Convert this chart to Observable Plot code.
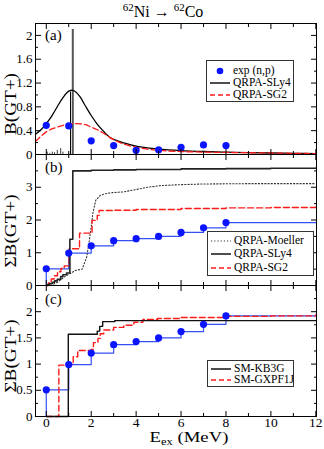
<!DOCTYPE html>
<html><head><meta charset="utf-8">
<script src="https://cdn.jsdelivr.net/npm/d3@7"></script>
<script src="https://cdn.jsdelivr.net/npm/@observablehq/plot@0.6"></script>
<style>
body{margin:0;background:#fff;}
#chart{position:relative;width:324px;height:449px;font-family:"Liberation Serif",serif;overflow:hidden;background:#fff}
#chart svg.plotp{position:absolute;left:0;overflow:visible;background:transparent}
.lbl{position:absolute;white-space:nowrap;color:#000}
.legend{position:absolute;border:1px solid #333;background:#fff;font-size:11.5px;box-sizing:border-box}
.row{position:absolute;left:0;height:12px;line-height:12px;white-space:nowrap}
.row svg{position:absolute;left:2px;top:1px}
.row span{position:absolute;top:-1px}
.ytitle{position:absolute;white-space:nowrap;font-size:16px;line-height:16px;transform:translate(-50%,-50%) rotate(-90deg) scaleX(1.2)}
</style></head><body><div id="chart"></div>
<script>
// ---------- data ----------
const xTicksMajor = [0, 2, 4, 6, 8, 10, 12];
const xTicksMinor = [1, 3, 5, 7, 9, 11];

// panel (a): B(GT+)
const expE = [0, 1, 2, 3, 4, 5, 6, 7, 8];
const expB = [0.49, 0.48, 0.23, 0.15, 0.07, 0.08, 0.12, 0.16, 0.15];
const sly4E = [-0.48, -0.25, 0, 0.25, 0.5, 0.75, 1.0, 1.15, 1.3, 1.5, 1.75, 2.0, 2.25, 2.5, 2.86, 3.0, 3.5, 4, 4.5, 5, 6, 7, 8, 9, 10, 11, 12];
const sly4B = [0.34, 0.41, 0.52, 0.65, 0.81, 0.96, 1.065, 1.08, 1.055, 0.97, 0.81, 0.655, 0.52, 0.41, 0.28, 0.255, 0.19, 0.14, 0.11, 0.09, 0.065, 0.05, 0.04, 0.03, 0.025, 0.02, 0.015];
const sg2E = [-0.48, -0.25, 0, 0.25, 0.5, 0.75, 1.0, 1.35, 1.75, 2.0, 2.25, 2.5, 2.86, 3.0, 3.5, 4, 4.5, 5, 6, 7, 8, 9, 10, 11, 12];
const sg2B = [0.22, 0.30, 0.38, 0.43, 0.46, 0.49, 0.51, 0.52, 0.50, 0.46, 0.42, 0.37, 0.28, 0.25, 0.17, 0.12, 0.09, 0.07, 0.05, 0.04, 0.035, 0.03, 0.025, 0.02, 0.015];
const stickE = [0.04, 0.16, 0.27, 0.37, 0.49, 0.64, 0.74, 1.08, 1.18];
const stickB = [0.04, 0.02, 0.04, 0.03, 0.07, 0.10, 0.04, 1.05, 2.10];

// panels (b),(c): cumulative sum B(GT+)
const expCum = [0.51, 0.99, 1.21, 1.37, 1.43, 1.50, 1.62, 1.76, 1.92];
const moellerE = [0.2, 0.5, 0.8, 1.05, 1.3, 1.6, 1.8, 1.9, 2.0, 2.07, 2.2, 2.4, 2.6, 2.86, 3.45, 4.0, 4.5, 5.1, 6, 7, 9, 12];
const moellerB = [0, 0.1, 0.26, 0.36, 0.46, 0.5, 0.87, 1.3, 1.78, 2.19, 2.6, 2.75, 2.8, 2.83, 2.86, 2.93, 3.0, 3.05, 3.08, 3.1, 3.11, 3.11];
const sly4CumE = [0, 0.04, 0.16, 0.27, 0.37, 0.49, 0.64, 0.74, 0.9, 1.05, 1.18, 2, 3, 4, 6, 8, 10, 12];
const sly4CumB = [0, 0.03, 0.06, 0.10, 0.14, 0.19, 0.27, 0.33, 0.38, 1.41, 3.50, 3.52, 3.53, 3.54, 3.56, 3.57, 3.58, 3.59];
const sg2CumE = [0, 0.1, 0.22, 0.35, 0.5, 0.65, 0.8, 1.02, 1.48, 2.04, 2.27, 2.35, 3, 4, 6, 8, 10, 12];
const sg2CumB = [0, 0.08, 0.2, 0.3, 0.42, 0.52, 0.6, 1.12, 1.6, 1.99, 2.14, 2.29, 2.3, 2.32, 2.35, 2.37, 2.38, 2.4];
const kb3gE = [0, 0.98, 2.27, 2.38, 2.51, 3.05, 12];
const kb3gB = [0, 1.57, 1.63, 1.72, 1.81, 1.83, 1.83];
const gxE = [0, 0.56, 1.0, 1.2, 1.4, 2.0, 2.1, 2.3, 2.4, 2.56, 3.0, 3.45, 3.9, 4.3, 4.95, 6, 8, 10, 12];
const gxB = [0, 0.98, 1.0, 1.14, 1.26, 1.28, 1.41, 1.49, 1.58, 1.65, 1.70, 1.74, 1.80, 1.85, 1.87, 1.89, 1.91, 1.92, 1.94];

// ---------- tables ----------
const zip = (E, B) => E.map((e, i) => ({E: e, B: B[i]}));
const expA = zip(expE, expB);
const sly4 = zip(sly4E, sly4B);
const sg2 = zip(sg2E, sg2B);
const sticks = zip(stickE, stickB);
const expPts = zip(expE, expCum);
const expStep = [{E: 0, B: 0}, ...expPts, {E: 12, B: expCum[expCum.length - 1]}];
const moeller = zip(moellerE, moellerB);
const sly4Cum = zip(sly4CumE, sly4CumB);
const sg2Cum = zip(sg2CumE, sg2CumB);
const kb3g = zip(kb3gE, kb3gB);
const gx = zip(gxE, gxB);

const BLUE = "#0a14ff", STEPBLUE = "#3550f2", RED = "#ff1a1a";
const chart = document.getElementById("chart");

function panel({top, height, mt, mb, yDomain, yMajor, yMinor, xLabels, marks}) {
  const blank = () => "";
  const p = Plot.plot({
    width: 324, height, marginLeft: 35, marginRight: 8, marginTop: mt, marginBottom: mb,
    style: {fontFamily: "Liberation Serif", fontSize: "13px", background: "transparent", color: "black"},
    x: {domain: [-0.48, 12.03]},
    y: {domain: yDomain},
    marks: [
      ...marks,
      Plot.frame({stroke: "black", strokeWidth: 1}),
      Plot.axisY({anchor: "left", ticks: yMajor, tickSize: 0, tickPadding: 3, tickFormat: d => String(d), label: null}),
      Plot.axisY({anchor: "left", ticks: yMajor, tickSize: -6, tickFormat: blank, label: null}),
      Plot.axisY({anchor: "left", ticks: yMinor, tickSize: -3, tickFormat: blank, label: null}),
      Plot.axisY({anchor: "right", ticks: yMajor, tickSize: -6, tickFormat: blank, label: null}),
      Plot.axisY({anchor: "right", ticks: yMinor, tickSize: -3, tickFormat: blank, label: null}),
      Plot.axisX({anchor: "bottom", ticks: xTicksMajor, tickSize: -5, tickFormat: blank, label: null}),
      Plot.axisX({anchor: "bottom", ticks: xTicksMinor, tickSize: -3, tickFormat: blank, label: null}),
      Plot.axisX({anchor: "top", ticks: xTicksMajor, tickSize: -5, tickFormat: blank, label: null}),
      Plot.axisX({anchor: "top", ticks: xTicksMinor, tickSize: -3, tickFormat: blank, label: null}),
      ...(xLabels ? [Plot.axisX({anchor: "bottom", ticks: xTicksMajor, tickSize: 0, tickPadding: 0.5, tickFormat: d => String(d), label: null, fontSize: 13.5})] : [])
    ]
  });
  p.classList.add("plotp");
  p.style.top = top + "px";
  p.style.overflow = "visible";
  chart.appendChild(p);
}

panel({
  top: 0, height: 154, mt: 23, mb: 0, yDomain: [0, 2.2],
  yMajor: [0, 0.4, 0.8, 1.2, 1.6, 2], yMinor: [0.2, 0.6, 1.0, 1.4, 1.8, 2.2], xLabels: false,
  marks: [
    Plot.ruleX(sticks.slice(0, 7), {x: "E", y1: 0, y2: "B", stroke: "#444", strokeWidth: 1}),
    Plot.ruleX(sticks.slice(7, 8), {x: "E", y1: 0, y2: "B", stroke: "#000", strokeWidth: 1}),
    Plot.ruleX(sticks.slice(8), {x: "E", y1: 0, y2: "B", stroke: "#555", strokeWidth: 2}),
    Plot.line(sly4, {x: "E", y: "B", stroke: "#000", strokeWidth: 1.3, curve: "monotone-x"}),
    Plot.line(sg2, {x: "E", y: "B", stroke: RED, strokeWidth: 1.3, strokeDasharray: "6,3", curve: "monotone-x"}),
    Plot.dot(expA, {x: "E", y: "B", r: 3.6, fill: BLUE, stroke: "none"})
  ]
});

panel({
  top: 154, height: 131, mt: 0, mb: 0, yDomain: [0, 4],
  yMajor: [0, 1, 2, 3], yMinor: [0.5, 1.5, 2.5, 3.5], xLabels: false,
  marks: [
    Plot.line(expStep, {x: "E", y: "B", stroke: STEPBLUE, strokeWidth: 1.2, curve: "step-after"}),
    Plot.line(moeller, {x: "E", y: "B", stroke: "#333", strokeWidth: 1.1, strokeDasharray: "1.2,2"}),
    Plot.line(sg2Cum, {x: "E", y: "B", stroke: RED, strokeWidth: 1.4, strokeDasharray: "6,3", curve: "step-after"}),
    Plot.line(sly4Cum, {x: "E", y: "B", stroke: "#222", strokeWidth: 1.6, curve: "step-after"}),
    Plot.dot(expPts, {x: "E", y: "B", r: 3.6, fill: BLUE, stroke: "none"})
  ]
});

panel({
  top: 285, height: 164, mt: 0, mb: 33, yDomain: [0, 2.5],
  yMajor: [0, 0.5, 1, 1.5, 2], yMinor: [0.25, 0.75, 1.25, 1.75, 2.25], xLabels: true,
  marks: [
    Plot.line(expStep, {x: "E", y: "B", stroke: STEPBLUE, strokeWidth: 1.2, curve: "step-after"}),
    Plot.line(gx, {x: "E", y: "B", stroke: RED, strokeWidth: 1.4, strokeDasharray: "6,3", curve: "step-after"}),
    Plot.line(kb3g, {x: "E", y: "B", stroke: "#111", strokeWidth: 1.4, curve: "step-after"}),
    Plot.dot(expPts, {x: "E", y: "B", r: 3.6, fill: BLUE, stroke: "none"})
  ]
});

// ---------- text ----------
function addHTML(html) { chart.insertAdjacentHTML("beforeend", html); }
addHTML(`<div class="lbl" style="left:0;width:326px;text-align:center;top:1px;font-size:16px"><sup style="font-size:11px">62</sup>Ni &#8594; <sup style="font-size:11px">62</sup>Co</div>`);
addHTML(`<svg style="position:absolute;left:0;top:0;overflow:visible" width="324" height="449"><text transform="translate(189,442) scale(1.25,1)" text-anchor="middle" font-family="Liberation Serif" font-size="15" fill="#000">E<tspan font-size="10" dy="3">ex</tspan><tspan dy="-3"> (MeV)</tspan></text></svg>`);
addHTML(`<div class="ytitle" style="left:11px;top:104px">B(GT+)</div>`);
addHTML(`<div class="ytitle" style="left:11px;top:231px">&Sigma;B(GT+)</div>`);
addHTML(`<div class="ytitle" style="left:11px;top:356px">&Sigma;B(GT+)</div>`);
addHTML(`<div class="lbl" style="left:45px;top:27px;font-size:15px">(a)</div>`);
addHTML(`<div class="lbl" style="left:45px;top:159px;font-size:15px">(b)</div>`);
addHTML(`<div class="lbl" style="left:45px;top:291px;font-size:15px">(c)</div>`);

function sym(kind) {
  if (kind === "dot") return `<svg width="22" height="10"><circle cx="11" cy="5" r="3.3" fill="${BLUE}"/></svg>`;
  if (kind === "solid") return `<svg width="22" height="10"><line x1="1" x2="21" y1="5" y2="5" stroke="#000" stroke-width="1.4"/></svg>`;
  if (kind === "dash") return `<svg width="22" height="10"><line x1="1" x2="21" y1="5" y2="5" stroke="${RED}" stroke-width="1.4" stroke-dasharray="5,3"/></svg>`;
  if (kind === "dot2") return `<svg width="22" height="10"><line x1="1" x2="21" y1="5" y2="5" stroke="#333" stroke-width="1.1" stroke-dasharray="1.2,2"/></svg>`;
}
function legend(left, top, w, h, rows) {
  const r = rows.map(([k, t, y]) => `<div class="row" style="top:${y - 6}px;width:${w}px">${sym(k)}<span style="left:26px">${t}</span></div>`).join("");
  addHTML(`<div class="legend" style="left:${left}px;top:${top}px;width:${w}px;height:${h}px">${r}</div>`);
}
legend(206, 60, 88, 42, [["dot", "exp (n,p)", 10], ["solid", "QRPA-SLy4", 21.5], ["dash", "QRPA-SG2", 34]]);
legend(207, 231, 107, 45, [["dot2", "QRPA-Moeller", 9], ["solid", "QRPA-SLy4", 22], ["dash", "QRPA-SG2", 35.5]]);
legend(207, 360, 87, 27, [["solid", "SM-KB3G", 7.5], ["dash", "SM-GXPF1J", 19]]);
</script></body></html>
